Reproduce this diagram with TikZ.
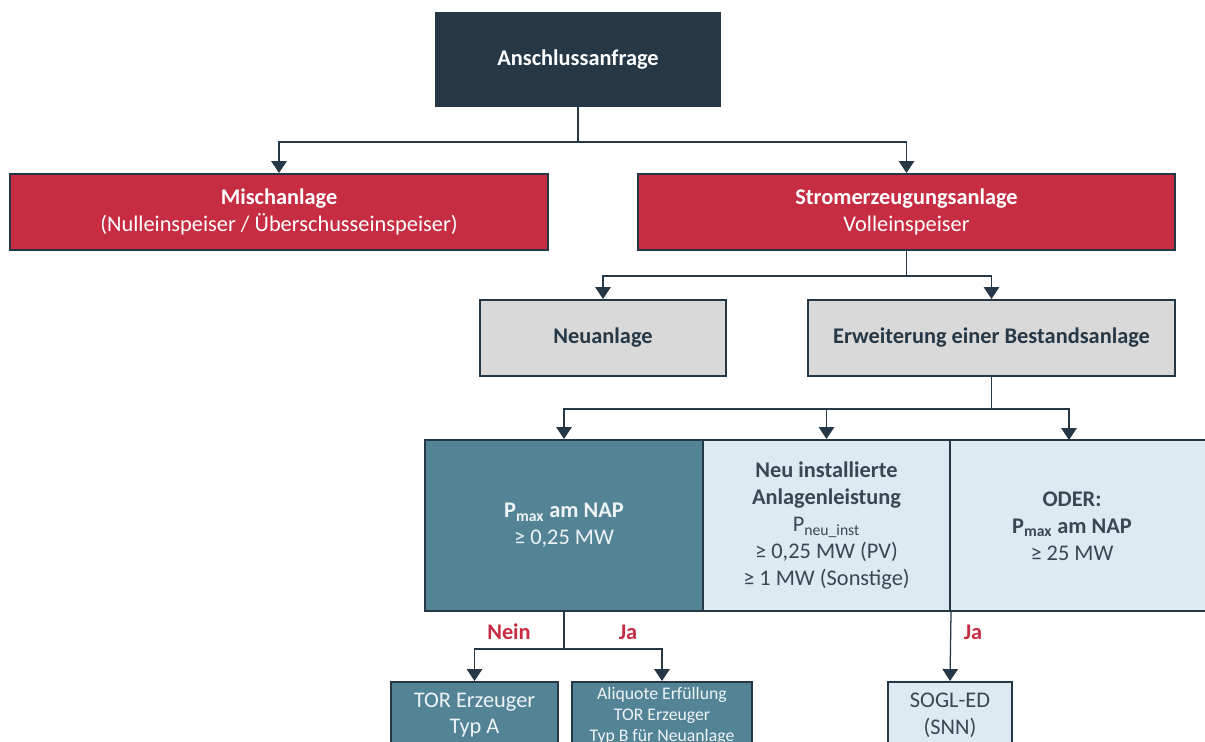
\documentclass[tikz,border=0pt]{standalone}
\usepackage{fontspec}
\setmainfont{Carlito}
\usetikzlibrary{arrows.meta, positioning, calc}
\definecolor{anavy}{HTML}{263746}
\definecolor{ared}{HTML}{C62D42}
\definecolor{ateal}{HTML}{538495}
\definecolor{alight}{HTML}{DEEAF1}
\definecolor{agray}{HTML}{D9D9D9}
\definecolor{atext}{HTML}{3A4752}
\definecolor{awhite}{HTML}{EEF3F6}

\begin{document}
\begin{tikzpicture}[
    x=0.025cm, y=-0.025cm,
    box/.style={rectangle, draw=anavy, line width=1.4pt, align=center, inner sep=0pt, font=\fontsize{15.9}{19.1}\selectfont},
    topbox/.style={box, fill=anavy, text=white, font=\fontsize{15.9}{19.1}\selectfont\bfseries},
    redbox/.style={box, fill=ared, text=white},
    graybox/.style={box, fill=agray, text=anavy, font=\fontsize{15.9}{19.1}\selectfont\bfseries},
    tealcell/.style={box, fill=ateal, text=awhite},
    lightcell/.style={box, fill=alight, text=atext},
    arr/.style={-{Triangle[length=8.5pt, width=11pt]}, line width=0.9pt, draw=anavy},
    answer/.style={font=\fontsize{15.9}{19.1}\selectfont\bfseries, text=ared}
]
\useasboundingbox (0,0) rectangle (1205,742);
\clip (0,0) rectangle (1205,742);

% Request
\node[topbox, minimum width=7.1cm, minimum height=2.325cm] (anfrage) at (578,59.5) {Anschlussanfrage};

% Type of plant
\node[redbox, minimum width=13.45cm, minimum height=1.9cm] (misch) at (279,212) {\textbf{Mischanlage}\\(Nulleinspeiser / Überschusseinspeiser)};
\node[redbox, minimum width=13.425cm, minimum height=1.9cm] (strom) at (906.5,212) {\textbf{Stromerzeugungsanlage}\\Volleinspeiser};

% New or extension
\node[graybox, minimum width=6.15cm, minimum height=1.9cm] (neu) at (603,338) {Neuanlage};
\node[graybox, minimum width=9.175cm, minimum height=1.9cm] (erw) at (991.5,338) {Erweiterung einer Bestandsanlage};

% Criteria
\node[tealcell, minimum width=6.95cm, minimum height=4.275cm] (pmax) at (564,525.5) {\textbf{P\textsubscript{max} am NAP}\\≥ 0,25 MW};
\node[lightcell, minimum width=6.175cm, minimum height=4.275cm] (pneu) at (826.5,525.5) {\textbf{Neu installierte}\\\textbf{Anlagenleistung}\\P\textsubscript{neu\_inst}\\≥ 0,25 MW (PV)\\≥ 1 MW (Sonstige)};
\node[lightcell, minimum width=6.625cm, minimum height=4.275cm] (oder) at (1082.5,525.5) {};
\node[text=atext, align=center, font=\fontsize{15.9}{19.1}\selectfont] (odertxt) at (1072,526) {\textbf{ODER:}\\\textbf{P\textsubscript{max} am NAP}\\≥ 25 MW};
\coordinate (oderin) at (1069,440);

% Results
\node[tealcell, minimum width=4.175cm, minimum height=1.65cm] (typa) at (474.5,715) {TOR Erzeuger\\Typ A};
\node[tealcell, minimum width=4.5cm, minimum height=1.7cm, font=\fontsize{12.6}{14.9}\selectfont] (typb) at (662,716) {Aliquote Erfüllung\\TOR Erzeuger\\Typ B für Neuanlage};
\node[lightcell, minimum width=3.1cm, minimum height=1.65cm] (sogl) at (950,715) {SOGL-ED\\(SNN)};

% Connectors
\draw[arr] (anfrage.south) -- ++(0,35) -| (misch.north);
\draw[arr] (anfrage.south) -- ++(0,35) -| (strom.north);
\draw[arr] (strom.south) -- ++(0,25) -| (neu.north);
\draw[arr] (strom.south) -- ++(0,25) -| (erw.north);
\draw[arr] (erw.south) -- ++(0,32) -| (pmax.north);
\draw[arr] (erw.south) -- ++(0,32) -| (pneu.north);
\draw[arr] (erw.south) -- ++(0,32) -| (oderin);
\draw[arr] (pmax.south) -- ++(0,37) -| (typa.north);
\draw[arr] (pmax.south) -- ++(0,37) -| (typb.north);
\draw[arr] (pneu.south east) -- (sogl.north);

% Answers
\node[answer] (nein) at (509,632) {Nein};
\node[answer] (ja) at (628,632) {Ja};
\node[answer] (jaoder) at (973,632) {Ja};

\end{tikzpicture}
\end{document}
